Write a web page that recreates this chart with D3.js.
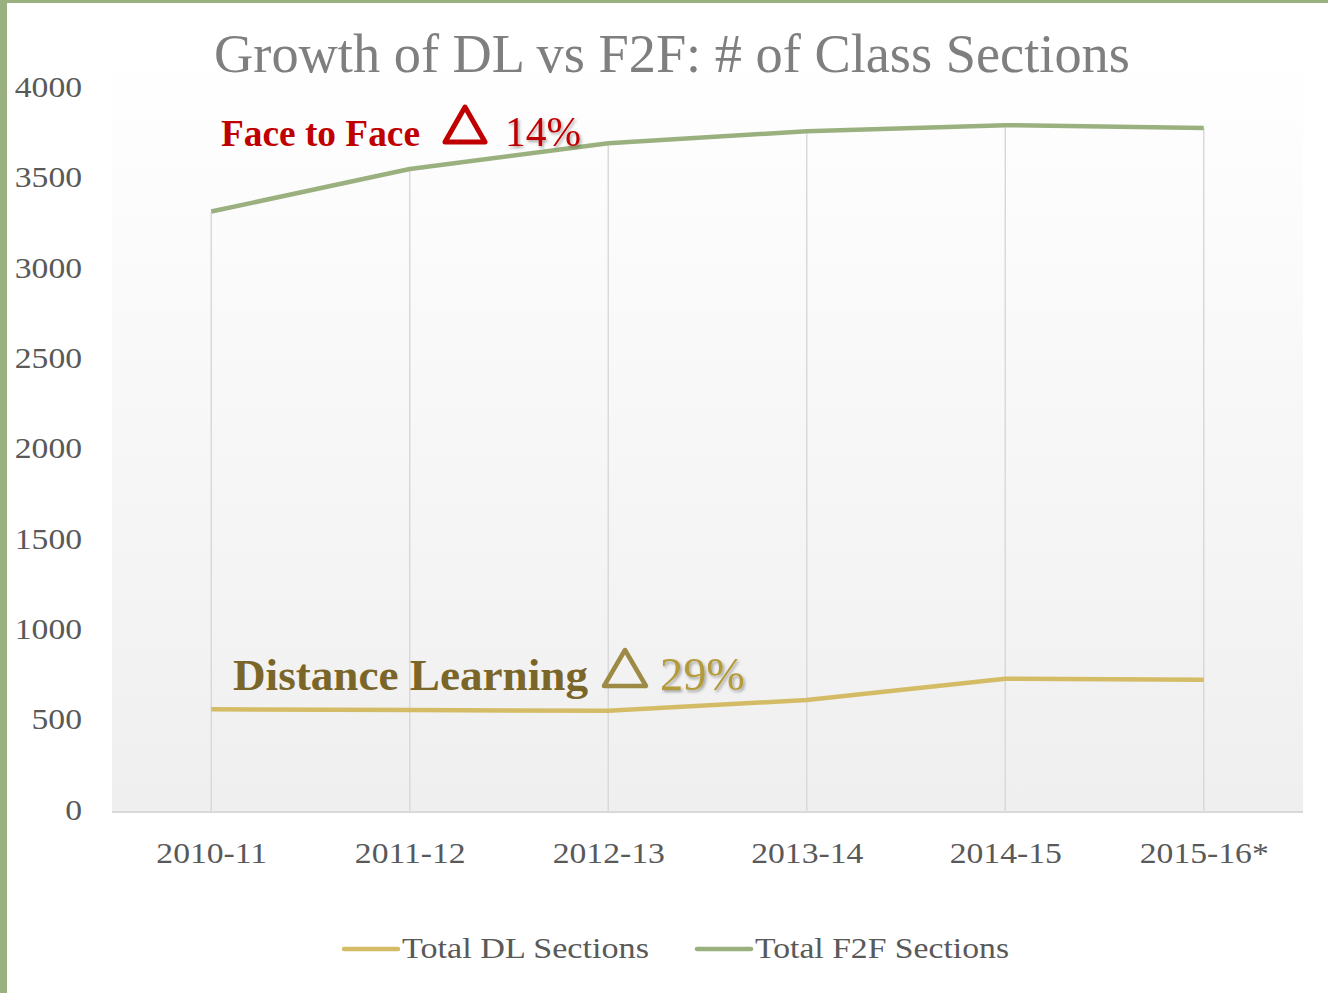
<!DOCTYPE html>
<html><head><meta charset="utf-8">
<script src="https://cdn.jsdelivr.net/npm/d3@7"></script>
<style>html,body{margin:0;padding:0;background:#fff;}svg{display:block;}</style>
</head><body>
<svg id="chart" width="1328" height="993"></svg>
<script>
const categories = ["2010-11","2011-12","2012-13","2013-14","2014-15","2015-16*"];
const dlValues = [568, 564, 560, 620, 737, 731];
const f2fValues = [3322, 3557, 3700, 3766, 3800, 3784];
const yTicks = [0,500,1000,1500,2000,2500,3000,3500,4000];
const seriesNames = ["Total DL Sections","Total F2F Sections"];
const titleText = "Growth of DL vs F2F: # of Class Sections";

const W = 1328, H = 993;
const FONT = "'Liberation Serif','DejaVu Serif',serif";
const svg = d3.select("#chart");
const m = {left:112, right:1303, top:89, bottom:812};

// frame
svg.append("rect").attr("x",0).attr("y",0).attr("width",W).attr("height",H).attr("fill","#fff");
svg.append("rect").attr("x",0).attr("y",0).attr("width",W).attr("height",3).attr("fill","#9bb07f");
svg.append("rect").attr("x",0).attr("y",0).attr("width",7).attr("height",H).attr("fill","#9bb07f");

const defs = svg.append("defs");
const grad = defs.append("linearGradient").attr("id","bg").attr("x1",0).attr("y1",0).attr("x2",0).attr("y2",1);
grad.append("stop").attr("offset","0%").attr("stop-color","#ffffff");
grad.append("stop").attr("offset","100%").attr("stop-color","#efefef");
const sh = defs.append("filter").attr("id","shadow").attr("x","-10%").attr("y","-10%").attr("width","130%").attr("height","140%");
sh.append("feDropShadow").attr("dx",1.5).attr("dy",2).attr("stdDeviation",1.5).attr("flood-color","#000").attr("flood-opacity",0.35);

const x = d3.scalePoint().domain(categories).range([m.left, m.right]).padding(0.5);
const y = d3.scaleLinear().domain([0,4000]).range([m.bottom, m.top]);

svg.append("rect").attr("x",m.left).attr("y",m.top-40).attr("width",m.right-m.left).attr("height",m.bottom-m.top+40).attr("fill","url(#bg)");

function stretch(sel, k){
  sel.each(function(){
    const w = this.getComputedTextLength();
    d3.select(this).attr("textLength", w*k).attr("lengthAdjust","spacingAndGlyphs");
  });
}
function fit(sel, targetW){
  const w = sel.node().getComputedTextLength();
  const fs = parseFloat(sel.attr("font-size"));
  sel.attr("font-size", fs*targetW/w);
}

// drop lines
svg.append("g").selectAll("line").data(categories).join("line")
  .attr("x1",d=>x(d)).attr("x2",d=>x(d))
  .attr("y1",(d,i)=>y(f2fValues[i])).attr("y2",y(0))
  .attr("stroke","#d9d9d9").attr("stroke-width",1.5);

// x axis
const xAxis = svg.append("g").attr("transform",`translate(0,${y(0)})`)
  .call(d3.axisBottom(x).tickSize(0).tickPadding(28));
xAxis.select(".domain").attr("d",`M${m.left},0H${m.right}`).attr("stroke","#d9d9d9").attr("stroke-width",2);
xAxis.selectAll("text").attr("font-family",FONT).attr("font-size",29).attr("fill","#595959").attr("dy","0.71em").attr("y",30);
stretch(xAxis.selectAll("text"), 1.16);

// y axis
const yAxis = svg.append("g").attr("transform",`translate(${m.left},0)`)
  .call(d3.axisLeft(y).tickValues(yTicks).tickFormat(d3.format("d")).tickSize(0).tickPadding(30));
yAxis.select(".domain").remove();
yAxis.selectAll("text").attr("font-family",FONT).attr("font-size",29).attr("fill","#595959").attr("dy","0.25em");
stretch(yAxis.selectAll("text"), 1.16);

// lines
const line = d3.line().x((d,i)=>x(categories[i])).y(d=>y(d));
svg.append("path").datum(f2fValues).attr("d",line).attr("fill","none").attr("stroke","#9bb07f").attr("stroke-width",4.5).attr("stroke-linejoin","round");
svg.append("path").datum(dlValues).attr("d",line).attr("fill","none").attr("stroke","#d4bc66").attr("stroke-width",4.5).attr("stroke-linejoin","round");

// title
const t = svg.append("text").attr("x",672).attr("y",72).attr("text-anchor","middle")
  .attr("font-family",FONT).attr("font-size",48).attr("fill","#7f7f7f").text(titleText);
fit(t, 916);

// annotations
const a1 = svg.append("text").attr("x",221).attr("y",146).attr("font-family",FONT).attr("font-weight","bold")
  .attr("font-size",36).attr("fill","#c00000").text("Face to Face");
fit(a1, 199);
svg.append("path").attr("d","M465,107 L485,142 L445,142 Z").attr("fill","none").attr("stroke","#c00000").attr("stroke-width",5).attr("stroke-linejoin","round");
const a2 = svg.append("text").attr("x",505).attr("y",146).attr("font-family",FONT)
  .attr("font-size",40).attr("fill","#c00000").attr("filter","url(#shadow)").text("14%");
fit(a2, 76);

const b1 = svg.append("text").attr("x",233).attr("y",690).attr("font-family",FONT).attr("font-weight","bold")
  .attr("font-size",42).attr("fill","#7a6628").text("Distance Learning");
fit(b1, 355);
svg.append("path").attr("d","M625,650 L646,686 L604,686 Z").attr("fill","none").attr("stroke","#9c8a45").attr("stroke-width",4.5).attr("stroke-linejoin","round");
const b2 = svg.append("text").attr("x",660).attr("y",690).attr("font-family",FONT)
  .attr("font-size",44).attr("fill","#b39b3a").attr("filter","url(#shadow)").text("29%");
fit(b2, 85);

// legend
const legend = [{name:seriesNames[0], color:"#d4bc66", x:344, tw:247},{name:seriesNames[1], color:"#9bb07f", x:697, tw:254}];
const lg = svg.append("g").selectAll("g").data(legend).join("g");
lg.append("line").attr("x1",d=>d.x).attr("x2",d=>d.x+54).attr("y1",949).attr("y2",949).attr("stroke",d=>d.color).attr("stroke-width",4.5).attr("stroke-linecap","round");
lg.append("text").attr("x",d=>d.x+58).attr("y",958).attr("font-family",FONT).attr("font-size",29).attr("fill","#595959").text(d=>d.name)
  .attr("textLength",d=>d.tw).attr("lengthAdjust","spacingAndGlyphs");
</script>
</body></html>
